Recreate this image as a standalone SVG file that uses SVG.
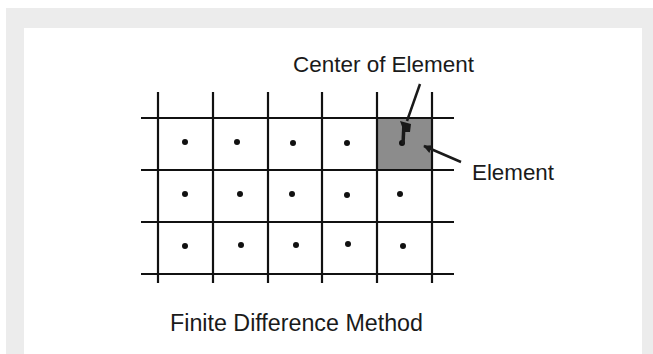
<svg xmlns="http://www.w3.org/2000/svg" width="653" height="354" viewBox="0 0 653 354">
<style>
.grid{stroke:#111;stroke-width:2.2;fill:none}
.dot{fill:#111}
.lbl{font-family:"Liberation Sans",Arial,sans-serif;font-size:22px;fill:#1a1a1a}
.conn{stroke:#1a1a1a;stroke-width:2.5;fill:none}
</style>
<defs>
<marker id="ah" viewBox="0 0 10 10" refX="9" refY="5" markerWidth="3.4" markerHeight="3.4" orient="auto" markerUnits="strokeWidth">
<path d="M0,0 L10,5 L0,10 Z" fill="#1a1a1a"/>
</marker>
</defs>
<rect x="0" y="0" width="653" height="354" fill="#ffffff"/>
<rect x="6" y="8" width="647" height="346" fill="#ececec"/>
<rect x="24" y="28" width="618" height="326" fill="#ffffff"/>

<g id="element">
<rect x="377" y="118" width="55" height="52" fill="#8c8c8c"/>
</g>

<g id="grid">
<line class="grid" x1="141" y1="118" x2="454" y2="118"/>
<line class="grid" x1="141" y1="170" x2="454" y2="170"/>
<line class="grid" x1="141" y1="222" x2="454" y2="222"/>
<line class="grid" x1="141" y1="274" x2="454" y2="274"/>
<line class="grid" x1="158" y1="92" x2="158" y2="283"/>
<line class="grid" x1="213" y1="92" x2="213" y2="283"/>
<line class="grid" x1="268" y1="92" x2="268" y2="283"/>
<line class="grid" x1="322" y1="92" x2="322" y2="283"/>
<line class="grid" x1="377" y1="92" x2="377" y2="283"/>
<line class="grid" x1="432" y1="92" x2="432" y2="283"/>
</g>

<g id="centers">
<circle class="dot" cx="185" cy="142" r="3"/>
<circle class="dot" cx="237" cy="142" r="3"/>
<circle class="dot" cx="293" cy="143" r="3"/>
<circle class="dot" cx="347" cy="143" r="3"/>
<circle class="dot" cx="402" cy="143" r="3"/>
<circle class="dot" cx="185" cy="194" r="3"/>
<circle class="dot" cx="240" cy="194" r="3"/>
<circle class="dot" cx="292" cy="194" r="3"/>
<circle class="dot" cx="347" cy="195" r="3"/>
<circle class="dot" cx="400" cy="194" r="3"/>
<circle class="dot" cx="185" cy="246" r="3"/>
<circle class="dot" cx="241" cy="245" r="3"/>
<circle class="dot" cx="296" cy="245" r="3"/>
<circle class="dot" cx="348" cy="244" r="3"/>
<circle class="dot" cx="403" cy="246" r="3"/>
</g>

<g id="connectors">
<line class="conn" x1="420" y1="84" x2="407" y2="121"/>
<path d="M400,121 L411,124 L410,132 L404,132 Z" fill="#1a1a1a"/>
<line x1="404" y1="123" x2="403" y2="144" stroke="#1a1a1a" stroke-width="3.5"/>
<line class="conn" x1="461" y1="162" x2="424" y2="146" marker-end="url(#ah)"/>
</g>

<g id="label-center">
<text class="lbl" x="293" y="72" textLength="181" lengthAdjust="spacingAndGlyphs">Center of Element</text>
</g>
<g id="label-element">
<text class="lbl" x="472" y="180" textLength="82" lengthAdjust="spacingAndGlyphs">Element</text>
</g>
<g id="caption">
<text class="lbl" x="170" y="331" style="font-size:23px" textLength="253" lengthAdjust="spacingAndGlyphs">Finite Difference Method</text>
</g>
</svg>
